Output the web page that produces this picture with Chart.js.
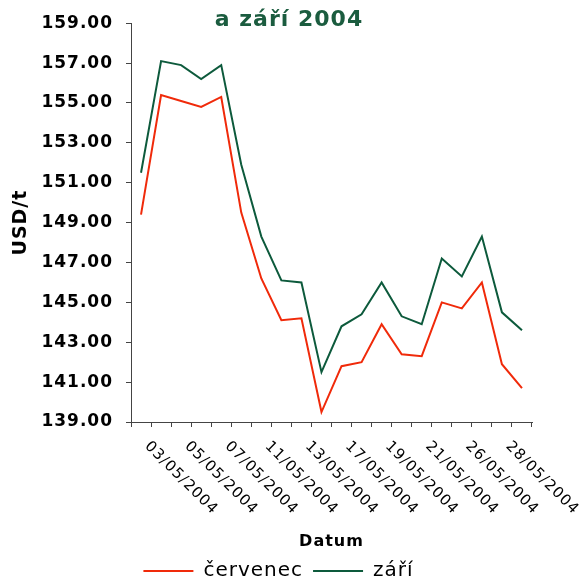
<!DOCTYPE html>
<html>
<head>
<meta charset="utf-8">
<script src="https://cdn.jsdelivr.net/npm/chart.js@4.4.1/dist/chart.umd.min.js"></script>
<style>
  html, body { margin: 0; padding: 0; background: #fff; }
</style>
</head>
<body>
<canvas id="lmeChart" width="582" height="583"></canvas>
<script>
const dates = ["03/05/2004", "04/05/2004", "05/05/2004", "06/05/2004", "07/05/2004",
  "10/05/2004", "11/05/2004", "12/05/2004", "13/05/2004", "14/05/2004",
  "17/05/2004", "18/05/2004", "19/05/2004", "20/05/2004", "21/05/2004",
  "25/05/2004", "26/05/2004", "27/05/2004", "28/05/2004", "31/05/2004"];

const cervenec = [149.4, 155.4, 155.1, 154.8, 155.3, 149.5, 146.2, 144.1, 144.2, 139.5,
  141.8, 142.0, 143.9, 142.4, 142.3, 145.0, 144.7, 146.0, 141.9, 140.7];

const zari = [151.5, 157.1, 156.9, 156.2, 156.9, 151.9, 148.3, 146.1, 146.0, 141.5,
  143.8, 144.4, 146.0, 144.3, 143.9, 147.2, 146.3, 148.3, 144.5, 143.6];

const yTicks = [139, 141, 143, 145, 147, 149, 151, 153, 155, 157, 159];

const titleText = "a září 2004";
const axisColor = "#444";

// wide glyph spacing like the original export
const spacing = {
  id: "spacing",
  beforeUpdate(chart) { chart.ctx.letterSpacing = "1px"; },
  beforeDraw(chart) { chart.ctx.letterSpacing = "1px"; }
};

// title and slanted date labels (every other day)
const extras = {
  id: "extras",
  afterDraw(chart) {
    const ctx = chart.ctx;
    const x = chart.scales.x;
    ctx.save();
    ctx.letterSpacing = "1px";
    ctx.fillStyle = "#000";
    ctx.font = '15px "DejaVu Sans"';
    ctx.textAlign = "left";
    ctx.textBaseline = "middle";
    dates.forEach((d, i) => {
      if (i % 2) return;
      ctx.save();
      ctx.translate(x.getPixelForValue(i) + 6, x.top + 22);
      ctx.rotate(Math.PI / 4);
      ctx.fillText(d, 0, 0);
      ctx.restore();
    });
    ctx.font = 'bold 22px "DejaVu Sans"';
    ctx.fillStyle = "#1b5c3f";
    ctx.textAlign = "center";
    ctx.textBaseline = "alphabetic";
    ctx.fillText(titleText, chart.width / 2 - 2, 26);
    ctx.restore();
  }
};

new Chart(document.getElementById("lmeChart"), {
  type: "line",
  data: {
    labels: dates,
    datasets: [
      {
        label: "červenec",
        data: cervenec,
        borderColor: "#f02a0a",
        backgroundColor: "#f02a0a",
        borderWidth: 2,
        pointRadius: 0,
        tension: 0,
      },
      {
        label: "září",
        data: zari,
        borderColor: "#0d5a3c",
        backgroundColor: "#0d5a3c",
        borderWidth: 2,
        pointRadius: 0,
        tension: 0,
      },
    ],
  },
  options: {
    responsive: false,
    animation: false,
    layout: { padding: { left: 25, right: 50, top: 22, bottom: -8 } },
    plugins: {
      legend: {
        position: "bottom",
        labels: {
          usePointStyle: true,
          pointStyle: "line",
          pointStyleWidth: 50,
          padding: 10,
          color: "#000",
          font: { family: "DejaVu Sans", size: 20 },
        },
      },
      tooltip: { enabled: false },
    },
    scales: {
      x: {
        offset: true,
        afterFit: (s) => { s.height = 129; },
        grid: { offset: true, drawOnChartArea: false, tickLength: 5, color: axisColor },
        border: { color: axisColor },
        ticks: { display: false },
        title: {
          display: true,
          text: "Datum",
          color: "#000",
          padding: 0,
          font: { family: "DejaVu Sans", size: 16, weight: "bold" },
        },
      },
      y: {
        min: 139,
        max: 159,
        afterFit: (s) => { s.width = 106; },
        afterBuildTicks: (s) => { s.ticks = yTicks.map((v) => ({ value: v })); },
        grid: { drawOnChartArea: false, tickLength: 5, color: axisColor },
        border: { color: axisColor },
        ticks: {
          padding: 13,
          color: "#000",
          font: { family: "DejaVu Sans", size: 17, weight: "bold" },
          callback: (v) => Number(v).toFixed(2),
        },
        title: {
          display: true,
          text: "USD/t",
          color: "#000",
          padding: { top: -15, bottom: 0 },
          font: { family: "DejaVu Sans", size: 19, weight: "bold" },
        },
      },
    },
  },
  plugins: [spacing, extras],
});
</script>
</body>
</html>
